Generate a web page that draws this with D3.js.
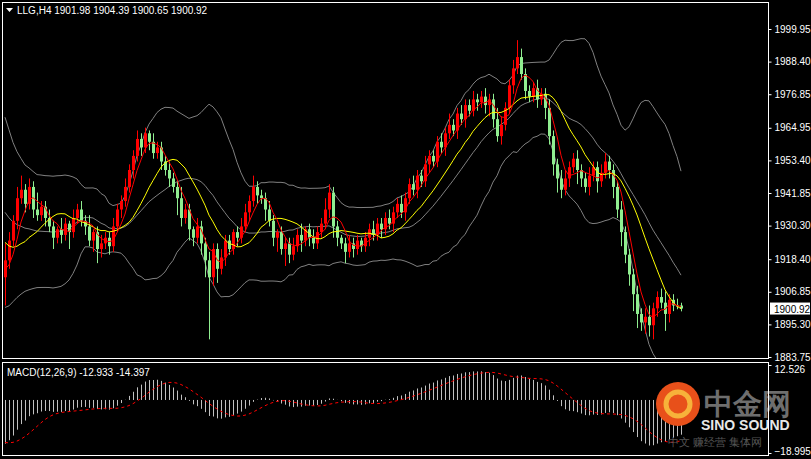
<!DOCTYPE html>
<html>
<head>
<meta charset="utf-8">
<script src="https://cdn.jsdelivr.net/npm/d3@7"></script>
<style>
  body { margin: 0; background: #000; }
  text { font-family: "Liberation Sans", Arial, sans-serif; }
</style>
</head>
<body>
<svg id="chart" width="811" height="459"></svg>
<script>
// closes before the visible window (only feed the indicators)
const prior = [1986, 1990, 1988, 1992, 1989, 1991, 1987, 1990, 1988, 1986,
  1983, 1981, 1977, 1975, 1971, 1969, 1964, 1962, 1958, 1955, 1951, 1949,
  1944, 1942, 1938, 1935, 1931, 1929, 1925, 1923, 1920, 1917, 1914, 1913, 1912];

const closes = [
  1918, 1925, 1932, 1940, 1943, 1938, 1944, 1936, 1934, 1937,
  1933, 1930, 1926, 1929, 1927, 1931, 1928, 1933, 1936, 1932,
  1930, 1925, 1928, 1922, 1924, 1926, 1923, 1930, 1936, 1939,
  1944, 1950, 1955, 1961, 1958, 1963, 1960, 1956, 1958, 1953,
  1950, 1947, 1944, 1940, 1933, 1936, 1929, 1926, 1930, 1924,
  1918, 1912, 1922, 1915, 1919, 1925, 1922, 1928, 1926, 1930,
  1935, 1939, 1944, 1941, 1940, 1936, 1932, 1926, 1928, 1922,
  1924, 1920, 1923, 1927, 1925, 1929, 1926, 1924, 1928, 1931,
  1936, 1942, 1930, 1926, 1924, 1921, 1924, 1922, 1925, 1923,
  1926, 1929, 1927, 1931, 1929, 1933, 1931, 1935, 1938, 1935,
  1940, 1945, 1943, 1948, 1946, 1952, 1955, 1953, 1960, 1958,
  1963, 1966, 1964, 1970, 1968, 1973, 1971, 1975, 1974, 1976,
  1973, 1975, 1968, 1962, 1966, 1972, 1980, 1986, 1990, 1984,
  1978, 1976, 1979, 1975, 1977, 1972, 1962, 1952, 1947, 1943,
  1947, 1951, 1954, 1950, 1947, 1944, 1948, 1951, 1946, 1949,
  1953, 1950, 1944, 1936, 1928, 1920, 1913, 1906, 1899, 1896,
  1898, 1895, 1901, 1905, 1903, 1899, 1904, 1902, 1901.98, 1900.92];

const wickUp = [
  6, 3, 2, 4, 5, 2, 3, 2, 6, 2,
  2, 3, 2, 1, 4, 2, 1, 3, 2, 3,
  2, 4, 1, 2, 3, 2, 2, 3, 2, 2,
  3, 2, 2, 3, 2, 2, 1, 3, 2, 2,
  2, 3, 2, 2, 4, 2, 2, 1, 3, 2,
  2, 3, 2, 2, 3, 2, 2, 1, 2, 3,
  3, 2, 4, 2, 2, 2, 3, 2, 1, 2,
  2, 2, 3, 2, 4, 1, 2, 3, 2, 2,
  4, 3, 2, 2, 1, 2, 3, 2, 2, 1,
  2, 2, 3, 2, 2, 2, 3, 2, 2, 3,
  2, 2, 3, 2, 2, 3, 2, 2, 2, 3,
  2, 4, 2, 2, 3, 2, 2, 3, 2, 2,
  3, 2, 2, 4, 3, 2, 2, 3, 6, 3,
  2, 2, 2, 3, 2, 2, 3, 2, 2, 3,
  3, 2, 2, 3, 2, 2, 3, 2, 2, 3,
  3, 2, 2, 2, 3, 2, 2, 2, 3, 2,
  3, 4, 2, 2, 3, 4, 2, 2, 2.41, 1];

const wickDn = [
  10, 3, 2, 3, 2, 3, 2, 3, 2, 2,
  3, 2, 4, 2, 3, 2, 6, 2, 2, 2,
  3, 2, 4, 5, 3, 2, 3, 2, 2, 3,
  2, 2, 3, 2, 3, 2, 3, 2, 2, 3,
  2, 3, 2, 6, 3, 2, 4, 3, 2, 4,
  6, 22, 3, 5, 2, 3, 2, 2, 3, 2,
  2, 3, 2, 3, 2, 4, 2, 3, 5, 2,
  6, 3, 2, 2, 4, 2, 3, 2, 2, 2,
  2, 3, 4, 3, 2, 4, 2, 3, 2, 2,
  2, 3, 2, 2, 3, 2, 2, 3, 2, 2,
  3, 2, 2, 3, 2, 2, 3, 2, 2, 2,
  3, 2, 2, 3, 2, 3, 2, 2, 3, 2,
  3, 4, 3, 2, 3, 2, 2, 3, 2, 2,
  3, 2, 2, 3, 2, 4, 3, 4, 5, 3,
  2, 3, 2, 5, 3, 2, 3, 2, 4, 2,
  2, 3, 4, 3, 5, 3, 4, 6, 5, 3,
  4, 4, 5, 3, 2, 6, 3, 2, 1.33, 1];

const priceTicks = [1999.95, 1988.40, 1976.85, 1964.95, 1953.40, 1941.85, 1930.30, 1918.40, 1906.85, 1895.30, 1883.75];
const macdTicks = [12.526, -18.995];

const svg = d3.select("#chart");
const W = 811, H = 459;
const plotRight = 768;
const main = {top: 3, bottom: 358};
const sub = {top: 362, bottom: 455};

svg.append("rect").attr("width", W).attr("height", H).attr("fill", "#000");

const opens = [1912].concat(closes.slice(0, -1));
const all = prior.concat(closes);
const off = prior.length;

const x = d3.scaleLinear().domain([0, closes.length - 1]).range([5, 681]);
const y = d3.scaleLinear().domain([1883.75, 1999.95]).range([357, 29]);
const ym = d3.scaleLinear().domain([-18.995, 12.526]).range([453, 365]);

// indicators
const sma = (arr, n) => arr.map((_, i) => i < n - 1 ? null : d3.mean(arr.slice(i - n + 1, i + 1)));
const ema = (arr, n) => {
  const k = 2 / (n + 1); let e = arr[0];
  return arr.map(v => (e = e + k * (v - e)));
};
const ma5 = sma(all, 5), ma13 = sma(all, 13), mid = sma(all, 20);
const sd = all.map((_, i) => i < 19 ? null : d3.deviation(all.slice(i - 19, i + 1)) * Math.sqrt(19 / 20));
const upper = mid.map((m, i) => m == null ? null : m + 2 * sd[i]);
const lower = mid.map((m, i) => m == null ? null : m - 2 * sd[i]);
const e12 = ema(all, 12), e26 = ema(all, 26);
const macd = all.map((_, i) => e12[i] - e26[i]);
const signal = sma(macd, 9);

svg.append("clipPath").attr("id", "mainClip").append("rect")
  .attr("x", 3).attr("y", main.top).attr("width", plotRight - 3).attr("height", main.bottom - main.top);
const g = svg.append("g").attr("clip-path", "url(#mainClip)");

const line = (arr, scale) => d3.line()
  .defined(d => d != null)
  .x((_, i) => x(i))
  .y(d => scale(d))(arr.slice(off));

[upper, mid, lower].forEach(s => g.append("path").attr("d", line(s, y))
  .attr("fill", "none").attr("stroke", "#808080").attr("stroke-width", 1));

// candles
const up = "#ff0000", dn = "#90ee90";
closes.forEach((c, i) => {
  const o = opens[i];
  const hi = Math.max(o, c) + wickUp[i], lo = Math.min(o, c) - wickDn[i];
  const col = c >= o ? up : dn;
  const cx = Math.round(x(i)) + 0.5;
  g.append("line").attr("x1", cx).attr("x2", cx).attr("y1", y(hi)).attr("y2", y(lo))
    .attr("stroke", col).attr("stroke-width", 1);
  g.append("rect").attr("x", cx - 1.5).attr("width", 3)
    .attr("y", y(Math.max(o, c))).attr("height", Math.max(1, Math.abs(y(o) - y(c))))
    .attr("fill", col);
});

g.append("path").attr("d", line(ma13, y)).attr("fill", "none").attr("stroke", "#ffff00").attr("stroke-width", 1);
g.append("path").attr("d", line(ma5, y)).attr("fill", "none").attr("stroke", "#ff0000").attr("stroke-width", 1);

// MACD panel
svg.append("clipPath").attr("id", "subClip").append("rect")
  .attr("x", 3).attr("y", sub.top).attr("width", plotRight - 3).attr("height", sub.bottom - sub.top);
const gs = svg.append("g").attr("clip-path", "url(#subClip)");
macd.slice(off).forEach((v, i) => {
  const cx = Math.round(x(i)) + 0.5;
  gs.append("line").attr("x1", cx).attr("x2", cx).attr("y1", ym(0)).attr("y2", ym(v))
    .attr("stroke", "#c0c0c0").attr("stroke-width", 1);
});
gs.append("path").attr("d", line(signal, ym)).attr("fill", "none")
  .attr("stroke", "#ff0000").attr("stroke-width", 1).attr("stroke-dasharray", "3,3");

// watermark
const wm = svg.append("g");
wm.append("circle").attr("cx", 678).attr("cy", 404).attr("r", 22).attr("fill", "#e8501a");
wm.append("circle").attr("cx", 678).attr("cy", 404).attr("r", 12).attr("fill", "none")
  .attr("stroke", "#f7b23a").attr("stroke-width", 5);
wm.append("text").attr("x", 704).attr("y", 414).attr("font-size", 29).attr("font-weight", "bold")
  .attr("fill", "#6e6e6e").attr("font-family", "Noto Sans CJK SC").text("中金网");
wm.append("text").attr("x", 701).attr("y", 430).attr("font-size", 14).attr("font-weight", "bold")
  .attr("fill", "#e8e8e8").text("SINO SOUND");
wm.append("text").attr("x", 668).attr("y", 446).attr("font-size", 11)
  .attr("fill", "#555").attr("font-family", "Noto Sans CJK SC").text("中文 赚经营 集体网");

// frames
const frame = svg.append("g").attr("stroke", "#fff").attr("fill", "none").attr("stroke-width", 1);
frame.append("rect").attr("x", 2.5).attr("y", 2.5).attr("width", plotRight - 2).attr("height", main.bottom - 2);
frame.append("rect").attr("x", 2.5).attr("y", sub.top + 0.5).attr("width", plotRight - 2).attr("height", sub.bottom - sub.top);

// axes
const axisG = svg.append("g").attr("transform", `translate(${plotRight + 0.5},0)`);
axisG.call(d3.axisRight(y).tickValues(priceTicks).tickSize(3).tickFormat(d3.format(".2f")));
const axisM = svg.append("g").attr("transform", `translate(${plotRight + 0.5},0)`);
axisM.call(d3.axisRight(ym).tickValues(macdTicks).tickSize(3).tickFormat(d3.format(".3f")));
[axisG, axisM].forEach(a => {
  a.select(".domain").remove();
  a.selectAll("line").attr("stroke", "#fff");
  a.selectAll("text").attr("fill", "#fff").attr("font-size", 10).attr("x", 6)
    .attr("font-family", "Liberation Sans");
});
axisM.selectAll("text").attr("dy", (d, i) => i === 0 ? "0.7em" : "0.1em");

// last price box
const lp = closes[closes.length - 1];
svg.append("rect").attr("x", 770).attr("y", y(lp) - 6).attr("width", 40).attr("height", 12).attr("fill", "#fff");
svg.append("text").attr("x", 774).attr("y", y(lp) + 4).attr("font-size", 10).attr("fill", "#000").text(lp.toFixed(2));

// titles
svg.append("path").attr("d", "M6,8 L13,8 L9.5,12 Z").attr("fill", "#fff");
svg.append("text").attr("x", 17).attr("y", 14).attr("font-size", 10).attr("fill", "#fff")
  .text("LLG,H4  1901.98 1904.39 1900.65 1900.92");
svg.append("text").attr("x", 7).attr("y", 376).attr("font-size", 10).attr("fill", "#fff")
  .text("MACD(12,26,9) -12.933 -14.397");
</script>
</body>
</html>
